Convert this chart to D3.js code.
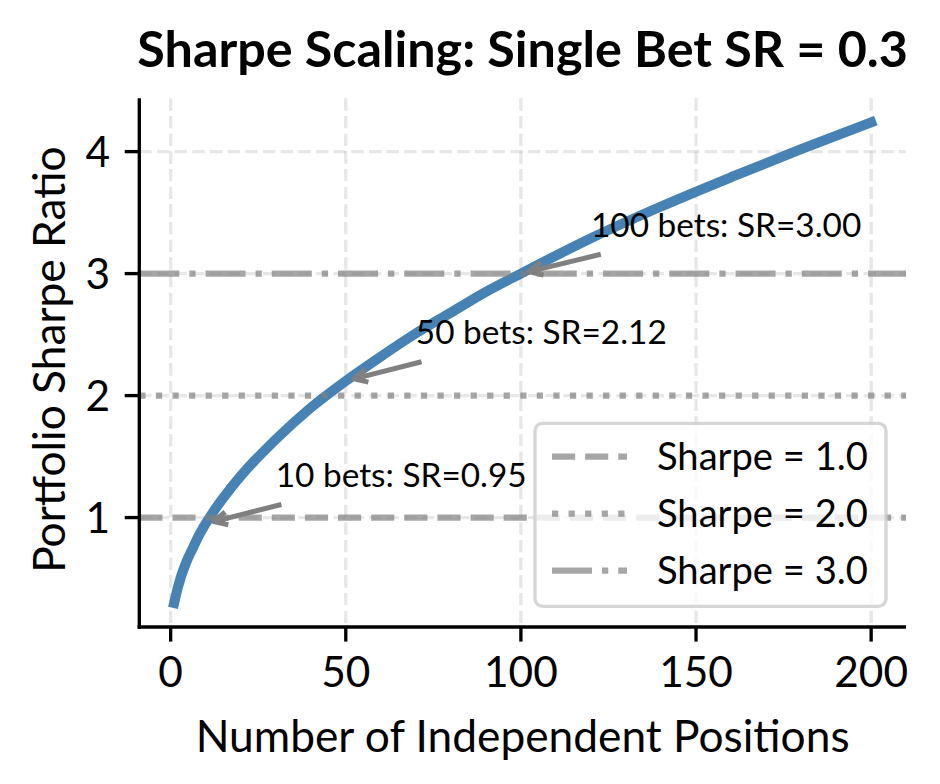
<!DOCTYPE html>
<html>
<head>
<meta charset="utf-8">
<script src="https://cdn.jsdelivr.net/npm/d3@7"></script>
<style>
  html, body { margin: 0; padding: 0; background: #ffffff; }
  svg { display: block; font-family: Lato, "Noto Sans", sans-serif; }
</style>
</head>
<body>
<svg id="chart" width="940" height="784"></svg>
<script>
// ---- data ----
const nPositions   = [1, 2, 3, 4, 5, 6, 8, 10, 12, 15, 20, 30, 40, 50, 60, 70, 80, 90, 100, 120, 140, 160, 180, 200];
const sharpeValues = [0.30, 0.42, 0.52, 0.60, 0.67, 0.73, 0.85, 0.95, 1.04, 1.16, 1.34, 1.64, 1.90, 2.12, 2.32, 2.51, 2.68, 2.85, 3.00, 3.29, 3.55, 3.79, 4.02, 4.24];
const refLevels = [1.0, 2.0, 3.0];
const refLabels = ["Sharpe = 1.0", "Sharpe = 2.0", "Sharpe = 3.0"];
const annotN = [10, 50, 100];
const annotSR = [0.95, 2.12, 3.00];
const annotLabels = ["10 bets: SR=0.95", "50 bets: SR=2.12", "100 bets: SR=3.00"];
const xTicks = [0, 50, 100, 150, 200];
const yTicks = [1, 2, 3, 4];
const titleText = "Sharpe Scaling: Single Bet SR = 0.3";
const xLabelText = "Number of Independent Positions";
const yLabelText = "Portfolio Sharpe Ratio";

// ---- layout ----
const PT = 300 / 72;               // px per point
const axL = 139.3, axR = 906, axT = 98.3, axB = 627;
const svg = d3.select("#chart");

const xMin = d3.min(nPositions), xMax = d3.max(nPositions);
const yMin = d3.min(sharpeValues), yMax = d3.max(sharpeValues);
const xm = (xMax - xMin) * 0.05, ym = (yMax - yMin) * 0.05;
const x = d3.scaleLinear().domain([xMin - xm, xMax + xm]).range([axL, axR]);
const y = d3.scaleLinear().domain([yMin - ym, yMax + ym]).range([axB, axT]);

const gray = "#808080";
const lwRef = 1.5 * PT;
const dashStyles = [
  [3.7 * lwRef, 1.6 * lwRef],
  [1 * lwRef, 1.65 * lwRef],
  [6.4 * lwRef, 1.6 * lwRef, 1 * lwRef, 1.6 * lwRef]
];

// ---- grid ----
const gridW = 0.8 * PT;
const gridDash = [3.7 * gridW, 1.6 * gridW].join(",");
const grid = svg.append("g");
grid.selectAll("line.gx").data(xTicks).join("line")
  .attr("x1", d => x(d)).attr("x2", d => x(d))
  .attr("y1", axT).attr("y2", axB)
  .attr("stroke", "#b0b0b0").attr("stroke-opacity", 0.3)
  .attr("stroke-width", gridW).attr("stroke-dasharray", gridDash);
grid.selectAll("line.gy").data(yTicks).join("line")
  .attr("x1", axL).attr("x2", axR)
  .attr("y1", d => y(d)).attr("y2", d => y(d))
  .attr("stroke", "#b0b0b0").attr("stroke-opacity", 0.3)
  .attr("stroke-width", gridW).attr("stroke-dasharray", gridDash);

// ---- main curve ----
const pts = nPositions.map((n, i) => [n, sharpeValues[i]]);
svg.append("path")
  .datum(pts)
  .attr("d", d3.line().x(d => x(d[0])).y(d => y(d[1])).curve(d3.curveMonotoneX))
  .attr("fill", "none")
  .attr("stroke", "#4682b4")
  .attr("stroke-width", 2.4 * PT)
  .attr("stroke-linecap", "square")
  .attr("stroke-linejoin", "round");

// ---- reference lines ----
svg.append("g").selectAll("line").data(refLevels).join("line")
  .attr("x1", axL).attr("x2", axR)
  .attr("y1", d => y(d)).attr("y2", d => y(d))
  .attr("stroke", gray).attr("stroke-opacity", 0.7)
  .attr("stroke-width", lwRef)
  .attr("stroke-dasharray", (d, i) => dashStyles[i].join(","));

// ---- spines & ticks ----
const spineW = 0.8 * PT, tickLen = 3.5 * PT, tickPad = 3.5 * PT;
const axes = svg.append("g");
axes.append("line").attr("x1", axL).attr("x2", axL).attr("y1", axT).attr("y2", axB + spineW / 2)
  .attr("stroke", "#000").attr("stroke-width", spineW);
axes.append("line").attr("x1", axL - spineW / 2).attr("x2", axR).attr("y1", axB).attr("y2", axB)
  .attr("stroke", "#000").attr("stroke-width", spineW);
axes.selectAll("line.xt").data(xTicks).join("line")
  .attr("x1", d => x(d)).attr("x2", d => x(d))
  .attr("y1", axB).attr("y2", axB + tickLen)
  .attr("stroke", "#000").attr("stroke-width", spineW);
axes.selectAll("line.yt").data(yTicks).join("line")
  .attr("x1", axL - tickLen).attr("x2", axL)
  .attr("y1", d => y(d)).attr("y2", d => y(d))
  .attr("stroke", "#000").attr("stroke-width", spineW);

// font fitting helper: scale font-size so that the text reaches the measured width
function fitFont(sel, target) {
  const w = sel.node().getComputedTextLength();
  const fs = parseFloat(sel.attr("font-size"));
  const nf = w > 0 ? fs * target / w : fs;
  sel.attr("font-size", nf);
  return nf;
}

// ---- legend (measure size first) ----
const legProbe = svg.append("text").attr("font-size", 34).text(refLabels[0]);
const legFS = fitFont(legProbe, 211);
legProbe.remove();
const tickFS = legFS * 10 / 9;

// tick labels
axes.selectAll("text.xl").data(xTicks).join("text")
  .attr("x", d => x(d)).attr("y", 687)
  .attr("text-anchor", "middle")
  .attr("font-size", tickFS)
  .attr("fill", "#000")
  .text(d => d);
axes.selectAll("text.yl").data(yTicks).join("text")
  .attr("x", axL - tickLen - tickPad).attr("y", d => y(d))
  .attr("dy", "0.36em")
  .attr("text-anchor", "end")
  .attr("font-size", tickFS)
  .attr("fill", "#000")
  .text(d => d);

// axis labels
const xl = svg.append("text").attr("x", (axL + axR) / 2).attr("y", 752)
  .attr("text-anchor", "middle").attr("font-size", 45).attr("fill", "#000").text(xLabelText);
const labFS = fitFont(xl, 654);
svg.append("text")
  .attr("transform", `translate(65,${(axT + axB) / 2 - 3}) rotate(-90)`)
  .attr("text-anchor", "middle").attr("font-size", labFS).attr("fill", "#000").text(yLabelText);

// title
const tt = svg.append("text").attr("x", (axL + axR) / 2).attr("y", 66.7)
  .attr("text-anchor", "middle").attr("font-size", 45).attr("font-weight", "bold")
  .attr("fill", "#000").text(titleText);
fitFont(tt, 771);

// ---- annotations ----
const annG = svg.append("g");
const annTexts = annG.selectAll("text").data(annotN).join("text")
  .attr("x", d => x(d + 20))
  .attr("y", (d, i) => y(annotSR[i] + 0.3))
  .attr("font-size", 30)
  .attr("fill", "#000")
  .text((d, i) => annotLabels[i]);
const annFS = fitFont(d3.select(annTexts.nodes()[0]), 251);
annTexts.attr("font-size", annFS);

const pad = 2 * PT, shrink = 2 * PT;
const headLen = 0.4 * 8 * PT, headW = 0.2 * 8 * PT;
annTexts.each(function (d, i) {
  const bb = this.getBBox();
  const x0 = bb.x - pad, x1 = bb.x + bb.width + pad;
  const y0 = bb.y - pad, y1 = bb.y + bb.height + pad;
  const cx = bb.x + bb.width / 2, cy = bb.y + bb.height / 2;
  const tx = x(d), ty = y(annotSR[i]);
  const dx = tx - cx, dy = ty - cy;
  const L = Math.hypot(dx, dy);
  const ux = dx / L, uy = dy / L;
  let tExit = Infinity;
  if (ux > 0) tExit = Math.min(tExit, (x1 - cx) / ux);
  if (ux < 0) tExit = Math.min(tExit, (x0 - cx) / ux);
  if (uy > 0) tExit = Math.min(tExit, (y1 - cy) / uy);
  if (uy < 0) tExit = Math.min(tExit, (y0 - cy) / uy);
  const sx = cx + ux * (tExit + shrink), sy = cy + uy * (tExit + shrink);
  const ex = tx - ux * shrink, ey = ty - uy * shrink;
  const px = -uy, py = ux;
  const hx = ex - ux * headLen, hy = ey - uy * headLen;
  annG.append("path")
    .attr("d", `M${sx},${sy}L${ex},${ey}M${hx + px * headW},${hy + py * headW}L${ex},${ey}L${hx - px * headW},${hy - py * headW}`)
    .attr("fill", "none").attr("stroke", gray)
    .attr("stroke-width", 1.2 * PT)
    .attr("stroke-linejoin", "round")
    .attr("stroke-linecap", "butt");
});

// ---- legend ----
const lg = svg.append("g");
const legX = 535, legY = 423.3, legW = 351, legH = 183;
lg.append("rect")
  .attr("x", legX).attr("y", legY).attr("width", legW).attr("height", legH)
  .attr("rx", 7.5).attr("ry", 7.5)
  .attr("fill", "#ffffff").attr("fill-opacity", 0.8)
  .attr("stroke", "#cccccc").attr("stroke-opacity", 0.8)
  .attr("stroke-width", 0.8 * PT);
const rowY = [456.5, 513.5, 570.5];
lg.selectAll("line").data(refLevels).join("line")
  .attr("x1", 552).attr("x2", 627)
  .attr("y1", (d, i) => rowY[i]).attr("y2", (d, i) => rowY[i])
  .attr("stroke", gray).attr("stroke-opacity", 0.7)
  .attr("stroke-width", lwRef)
  .attr("stroke-dasharray", (d, i) => dashStyles[i].join(","));
lg.selectAll("text").data(refLabels).join("text")
  .attr("x", 657).attr("y", (d, i) => rowY[i])
  .attr("dy", "0.36em")
  .attr("font-size", legFS)
  .attr("fill", "#000")
  .text(d => d);
</script>
</body>
</html>
